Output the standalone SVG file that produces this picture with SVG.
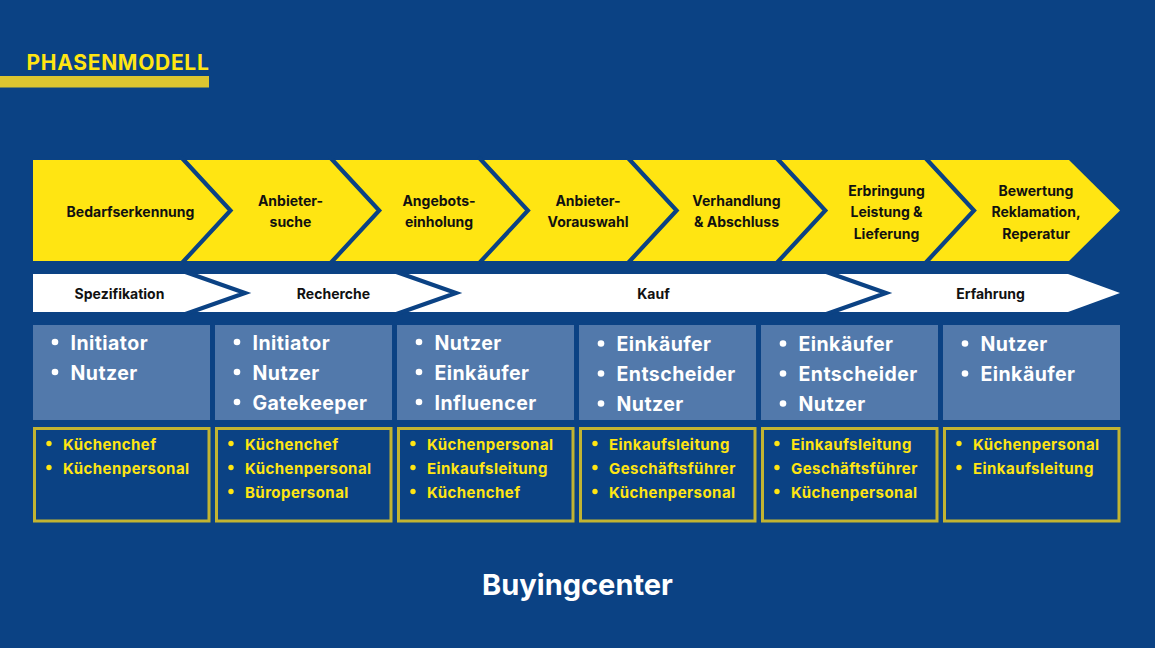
<svg xmlns="http://www.w3.org/2000/svg" width="1155" height="648" viewBox="0 0 1155 648">
<style>
text{font-family:Inter,"Liberation Sans",Arial,sans-serif;font-weight:700}
.bg{fill:#0b4284}
.ch{font-size:14px;fill:#111;text-anchor:middle}
.ph{font-size:14px;fill:#111;text-anchor:middle}
.sep{fill:none;stroke:#0b4284;stroke-width:4.2;stroke-linejoin:miter;stroke-miterlimit:10}
.rb{fill:#5279ab}
.rt{font-size:19.5px;fill:#fff;letter-spacing:0.45px}
.rd{fill:#fff}
.pb{fill:#0b4284;stroke:#c2b432;stroke-width:3}
.pt{font-size:15px;fill:#ffe512;letter-spacing:0.45px}
.pd{fill:#ffe512}
</style>
<rect class="bg" x="0" y="0" width="1155" height="648"/>
<g id="title">
<rect x="0" y="76" width="209" height="11.5" fill="#dcc530"/>
<text x="26.5" y="69.5" font-size="21" fill="#ffe512" letter-spacing="0.7">PHASENMODELL</text>
</g>
<g id="phases">
<polygon points="33,160 1069,160 1120,210.5 1069,261 33,261" fill="#ffe512"/>
<g id="phase1"><text class="ch" x="130.5" y="217">Bedarfserkennung</text></g>
<g id="phase2"><text class="ch" x="290.5" y="206">Anbieter-</text><text class="ch" x="290.5" y="227">suche</text></g>
<g id="phase3"><text class="ch" x="439" y="206">Angebots-</text><text class="ch" x="439" y="227">einholung</text></g>
<g id="phase4"><text class="ch" x="588" y="206">Anbieter-</text><text class="ch" x="588" y="227">Vorauswahl</text></g>
<g id="phase5"><text class="ch" x="736.5" y="206">Verhandlung</text><text class="ch" x="736.5" y="227">&amp; Abschluss</text></g>
<g id="phase6"><text class="ch" x="886.5" y="195.5">Erbringung</text><text class="ch" x="886.5" y="217">Leistung &amp;</text><text class="ch" x="886.5" y="238.5">Lieferung</text></g>
<g id="phase7"><text class="ch" x="1036" y="195.5">Bewertung</text><text class="ch" x="1036" y="217">Reklamation,</text><text class="ch" x="1036" y="238.5">Reperatur</text></g>
</g>
<g id="stages">
<polygon points="33,274 1068,274 1120,293 1068,312 33,312" fill="#fff"/>
<g id="stage1"><text class="ph" x="119.5" y="298.5">Spezifikation</text></g>
<g id="stage2"><text class="ph" x="333.5" y="298.5">Recherche</text></g>
<g id="stage3"><text class="ph" x="653.5" y="298.5">Kauf</text></g>
<g id="stage4"><text class="ph" x="990.5" y="298.5">Erfahrung</text></g>
</g>
<g id="connectors">
<polyline class="sep" points="181,157 230.5,210.5 181,264"/>
<polyline class="sep" points="329.7,157 379.2,210.5 329.7,264"/>
<polyline class="sep" points="478.4,157 527.9,210.5 478.4,264"/>
<polyline class="sep" points="627.1,157 676.6,210.5 627.1,264"/>
<polyline class="sep" points="775.8,157 825.3,210.5 775.8,264"/>
<polyline class="sep" points="924.5,157 974,210.5 924.5,264"/>
<polyline class="sep" points="184,271.5 245,293 184,314.5"/>
<polyline class="sep" points="395,271.5 456,293 395,314.5"/>
<polyline class="sep" points="825,271.5 886,293 825,314.5"/>
</g>
<g id="roles1">
<rect class="rb" x="33" y="325" width="177" height="95"/>
<circle class="rd" cx="55" cy="342" r="3.3"/><text class="rt" x="70.5" y="349.5">Initiator</text>
<circle class="rd" cx="55" cy="372" r="3.3"/><text class="rt" x="70.5" y="379.5">Nutzer</text>
</g>
<g id="roles2">
<rect class="rb" x="215" y="325" width="177" height="95"/>
<circle class="rd" cx="237" cy="342" r="3.3"/><text class="rt" x="252.5" y="349.5">Initiator</text>
<circle class="rd" cx="237" cy="372" r="3.3"/><text class="rt" x="252.5" y="379.5">Nutzer</text>
<circle class="rd" cx="237" cy="402" r="3.3"/><text class="rt" x="252.5" y="409.5">Gatekeeper</text>
</g>
<g id="roles3">
<rect class="rb" x="397" y="325" width="177" height="95"/>
<circle class="rd" cx="419" cy="342" r="3.3"/><text class="rt" x="434.5" y="349.5">Nutzer</text>
<circle class="rd" cx="419" cy="372" r="3.3"/><text class="rt" x="434.5" y="379.5">Einkäufer</text>
<circle class="rd" cx="419" cy="402" r="3.3"/><text class="rt" x="434.5" y="409.5">Influencer</text>
</g>
<g id="roles4">
<rect class="rb" x="579" y="325" width="177" height="95"/>
<circle class="rd" cx="601" cy="343.5" r="3.3"/><text class="rt" x="616.5" y="351">Einkäufer</text>
<circle class="rd" cx="601" cy="373.5" r="3.3"/><text class="rt" x="616.5" y="381">Entscheider</text>
<circle class="rd" cx="601" cy="403.5" r="3.3"/><text class="rt" x="616.5" y="411">Nutzer</text>
</g>
<g id="roles5">
<rect class="rb" x="761" y="325" width="177" height="95"/>
<circle class="rd" cx="783" cy="343.5" r="3.3"/><text class="rt" x="798.5" y="351">Einkäufer</text>
<circle class="rd" cx="783" cy="373.5" r="3.3"/><text class="rt" x="798.5" y="381">Entscheider</text>
<circle class="rd" cx="783" cy="403.5" r="3.3"/><text class="rt" x="798.5" y="411">Nutzer</text>
</g>
<g id="roles6">
<rect class="rb" x="943" y="325" width="177" height="95"/>
<circle class="rd" cx="965" cy="343.5" r="3.3"/><text class="rt" x="980.5" y="351">Nutzer</text>
<circle class="rd" cx="965" cy="373.5" r="3.3"/><text class="rt" x="980.5" y="381">Einkäufer</text>
</g>
<g id="persons1">
<rect class="pb" x="34.5" y="428.5" width="174.5" height="92.5"/>
<circle class="pd" cx="49" cy="443.5" r="2.7"/><text class="pt" x="63" y="449.5">Küchenchef</text>
<circle class="pd" cx="49" cy="467.5" r="2.7"/><text class="pt" x="63" y="473.5">Küchenpersonal</text>
</g>
<g id="persons2">
<rect class="pb" x="216.5" y="428.5" width="174.5" height="92.5"/>
<circle class="pd" cx="231" cy="443.5" r="2.7"/><text class="pt" x="245" y="449.5">Küchenchef</text>
<circle class="pd" cx="231" cy="467.5" r="2.7"/><text class="pt" x="245" y="473.5">Küchenpersonal</text>
<circle class="pd" cx="231" cy="491.5" r="2.7"/><text class="pt" x="245" y="497.5">Büropersonal</text>
</g>
<g id="persons3">
<rect class="pb" x="398.5" y="428.5" width="174.5" height="92.5"/>
<circle class="pd" cx="413" cy="443.5" r="2.7"/><text class="pt" x="427" y="449.5">Küchenpersonal</text>
<circle class="pd" cx="413" cy="467.5" r="2.7"/><text class="pt" x="427" y="473.5">Einkaufsleitung</text>
<circle class="pd" cx="413" cy="491.5" r="2.7"/><text class="pt" x="427" y="497.5">Küchenchef</text>
</g>
<g id="persons4">
<rect class="pb" x="580.5" y="428.5" width="174.5" height="92.5"/>
<circle class="pd" cx="595" cy="443.5" r="2.7"/><text class="pt" x="609" y="449.5">Einkaufsleitung</text>
<circle class="pd" cx="595" cy="467.5" r="2.7"/><text class="pt" x="609" y="473.5">Geschäftsführer</text>
<circle class="pd" cx="595" cy="491.5" r="2.7"/><text class="pt" x="609" y="497.5">Küchenpersonal</text>
</g>
<g id="persons5">
<rect class="pb" x="762.5" y="428.5" width="174.5" height="92.5"/>
<circle class="pd" cx="777" cy="443.5" r="2.7"/><text class="pt" x="791" y="449.5">Einkaufsleitung</text>
<circle class="pd" cx="777" cy="467.5" r="2.7"/><text class="pt" x="791" y="473.5">Geschäftsführer</text>
<circle class="pd" cx="777" cy="491.5" r="2.7"/><text class="pt" x="791" y="497.5">Küchenpersonal</text>
</g>
<g id="persons6">
<rect class="pb" x="944.5" y="428.5" width="174.5" height="92.5"/>
<circle class="pd" cx="959" cy="443.5" r="2.7"/><text class="pt" x="973" y="449.5">Küchenpersonal</text>
<circle class="pd" cx="959" cy="467.5" r="2.7"/><text class="pt" x="973" y="473.5">Einkaufsleitung</text>
</g>
<g id="footer">
<text x="577.5" y="595" font-size="29" fill="#fff" text-anchor="middle">Buyingcenter</text>
</g>
</svg>
